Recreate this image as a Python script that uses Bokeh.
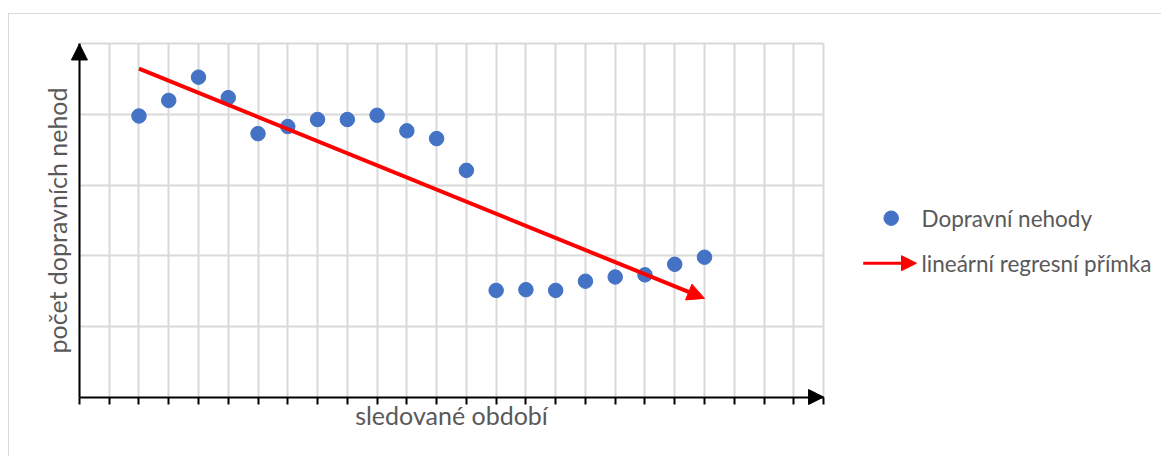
import numpy as np
from bokeh.plotting import figure
from bokeh.models import FixedTicker, Arrow, NormalHead, Range1d, LinearAxis
from bokeh.layouts import row
from bokeh.embed import file_html
from bokeh.resources import INLINE
from bokeh.core.properties import value

# ---------------- data ----------------
periods = list(range(2, 22))
accidents = [3.98, 4.20, 4.53, 4.24, 3.73, 3.83, 3.93, 3.93, 3.99, 3.77,
             3.66, 3.21, 1.51, 1.52, 1.51, 1.64, 1.70, 1.73, 1.88, 1.98]
x_ticks = list(range(0, 26))
y_ticks = [1, 2, 3, 4, 5]
x_label = "sledované období"
y_label = "počet dopravních nehod"
series_label = "Dopravní nehody"
trend_label = "lineární regresní přímka"

# linear regression computed from the data
slope, intercept = np.polyfit(periods, accidents, 1)
reg_x0, reg_x1 = periods[0], periods[-1]
reg_y0, reg_y1 = slope * reg_x0 + intercept, slope * reg_x1 + intercept

# ---------------- style ----------------
FONT = "Lato"
TEXT_COLOR = "#595959"
GRID_COLOR = "#d9d9d9"
DOT_COLOR = "#4472c4"
RED = "#ff0000"
LABEL_SIZE = "25px"
LEGEND_SIZE = "22.5px"

FIG_H = 442
BORDER_TOP, BORDER_BOTTOM = 21, 51

X0, X1 = x_ticks[0], x_ticks[-1]
Y0, Y1 = 0, y_ticks[-1]
X_PAD, Y_PAD = 0.3, 0.12

p = figure(width=831, height=FIG_H,
           x_range=Range1d(X0 - X_PAD, X1 + X_PAD),
           y_range=Range1d(Y0 - Y_PAD, Y1 + Y_PAD),
           output_backend="svg", toolbar_location=None,
           min_border_left=61, min_border_right=8,
           min_border_top=BORDER_TOP, min_border_bottom=BORDER_BOTTOM)
p.outline_line_color = None
p.background_fill_color = "white"
p.border_fill_color = "white"

xt = FixedTicker(ticks=x_ticks)
yt = FixedTicker(ticks=y_ticks)
p.xgrid.ticker = xt
p.ygrid.ticker = yt
p.xgrid.cross_bounds = (Y0, Y1)
p.ygrid.cross_bounds = (X0, X1)
for g in (p.xgrid, p.ygrid):
    g.grid_line_color = GRID_COLOR
    g.grid_line_width = 2

# title-only axes at the frame edges
xa_title = p.below[0]
ya_title = p.left[0]
for ax, lab in ((xa_title, x_label), (ya_title, y_label)):
    ax.ticker = FixedTicker(ticks=[])
    ax.axis_line_color = None
    ax.major_tick_line_color = None
    ax.minor_tick_line_color = None
    ax.major_tick_out = 0
    ax.major_tick_in = 0
    ax.minor_tick_out = 0
    ax.minor_tick_in = 0
    ax.major_label_standoff = 0
    ax.major_label_text_color = None
    ax.axis_label = lab
    ax.axis_label_text_font = FONT
    ax.axis_label_text_font_size = LABEL_SIZE
    ax.axis_label_text_font_style = "normal"
    ax.axis_label_text_color = TEXT_COLOR
xa_title.axis_label_standoff = -6
ya_title.axis_label_standoff = -1

# axis lines and ticks crossing at the origin
xa_line = LinearAxis(ticker=xt, fixed_location=Y0, bounds=(X0, X1),
                     axis_line_color="black", axis_line_width=2,
                     major_tick_out=7, major_tick_in=0,
                     major_tick_line_color="black", major_tick_line_width=2,
                     minor_tick_out=0, minor_tick_in=0, minor_tick_line_color=None,
                     major_label_text_color=None, major_label_standoff=0)
ya_line = LinearAxis(ticker=yt, fixed_location=X0, bounds=(Y0, Y1),
                     axis_line_color="black", axis_line_width=2,
                     major_tick_out=0, major_tick_in=0, major_tick_line_color=None,
                     minor_tick_out=0, minor_tick_in=0, minor_tick_line_color=None,
                     major_label_text_color=None, major_label_standoff=0)
p.add_layout(xa_line, "below")
p.add_layout(ya_line, "left")

# axis arrow heads
p.add_layout(Arrow(x_start=X0, y_start=Y0, x_end=X1, y_end=Y0, line_alpha=0,
                   end=NormalHead(size=15, fill_color="black", line_color="black")))
p.add_layout(Arrow(x_start=X0, y_start=Y0, x_end=X0, y_end=Y1, line_alpha=0,
                   end=NormalHead(size=16, fill_color="black", line_color="black")))

# data points
p.scatter(periods, accidents, size=14.5, marker="circle",
          fill_color=DOT_COLOR, line_color=DOT_COLOR)

# regression arrow
p.add_layout(Arrow(x_start=reg_x0, y_start=reg_y0, x_end=reg_x1, y_end=reg_y1,
                   line_color=RED, line_width=4,
                   end=NormalHead(size=17, fill_color=RED, line_color=RED)))

# ---------------- legend panel ----------------
# frame aligned with the main plot frame; data units = canvas pixels
LEG_W = 321
leg = figure(width=LEG_W, height=FIG_H, x_range=Range1d(0, LEG_W),
             y_range=Range1d(FIG_H - BORDER_BOTTOM, BORDER_TOP),
             output_backend="svg", toolbar_location=None,
             x_axis_type=None, y_axis_type=None,
             min_border_left=0, min_border_right=0,
             min_border_top=BORDER_TOP, min_border_bottom=BORDER_BOTTOM)
leg.outline_line_color = None
leg.grid.visible = False

LEG_SYM_X = 50.7
LEG_ARROW_X0, LEG_ARROW_X1 = 22.7, 76
LEG_TEXT_X = 81
LEG_ROW_Y = [203.7, 248.7]

leg.scatter([LEG_SYM_X], [LEG_ROW_Y[0]], size=14.5, marker="circle",
            fill_color=DOT_COLOR, line_color=DOT_COLOR)
leg.add_layout(Arrow(x_start=LEG_ARROW_X0, y_start=LEG_ROW_Y[1],
                     x_end=LEG_ARROW_X1, y_end=LEG_ROW_Y[1],
                     line_color=RED, line_width=3,
                     end=NormalHead(size=15, fill_color=RED, line_color=RED)))
leg.text(x=[LEG_TEXT_X, LEG_TEXT_X], y=LEG_ROW_Y, text=[series_label, trend_label],
         text_font=value(FONT), text_font_size=LEGEND_SIZE, text_color=TEXT_COLOR,
         text_baseline="middle", text_align="left")

layout = row(p, leg, styles={"margin-left": "8px", "margin-top": "13px",
                             "border-top": "1px solid #d9d9d9",
                             "border-left": "1px solid #d9d9d9"})
open("out.html", "w").write(file_html(layout, INLINE))
